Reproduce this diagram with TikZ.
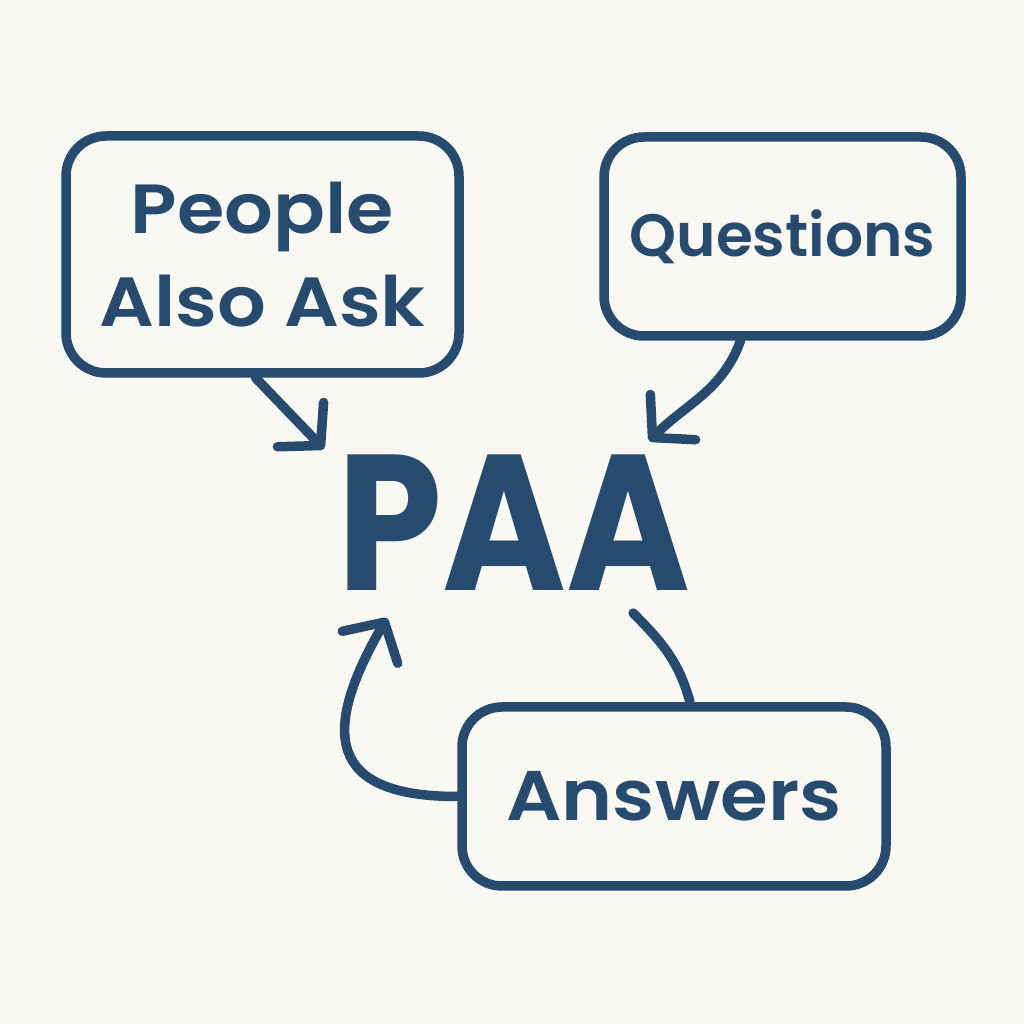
\documentclass[tikz,border=0pt]{standalone}
\usepackage{fontspec}
\setmainfont{Poppins}[BoldFont={Poppins Bold}]
\newfontfamily\boxfont{Poppins SemiBold}
\newfontfamily\widefont{Poppins SemiBold}[FakeStretch=1.1]
\newfontfamily\paafont{Poppins Bold}[FakeStretch=0.87]
\usetikzlibrary{arrows.meta}
\definecolor{ink}{HTML}{264B6F}
\definecolor{paper}{HTML}{FAF8F2}

\tikzset{
    term/.style={draw=ink, line width=0.095cm, rounded corners=0.4cm,
	inner sep=0, text=ink, align=center},
    link/.style={draw=ink, line width=0.095cm, line cap=round,
	-{Straight Barb[length=0.29cm, width=0.64cm, line cap=round, line join=round]}}
}

\begin{document}
\begin{tikzpicture}
    \fill[paper] (0, 0) rectangle (10.24, 10.24);
    \useasboundingbox (0, 0) rectangle (10.24, 10.24);

    \node[term, minimum width=3.93cm, minimum height=2.37cm,
	font={\widefont\fontsize{19.8}{26.5}\selectfont}] (ppl) at (2.625, 7.695) {People\\Also Ask};
    \node[term, minimum width=3.57cm, minimum height=1.99cm,
	font={\boxfont\fontsize{17}{20}\selectfont}] (qst) at (7.825, 7.875) {Questions};
    \node[term, minimum width=4.24cm, minimum height=1.79cm,
	font={\widefont\fontsize{20}{24}\selectfont}] (ans) at (6.74, 2.275) {Answers};
    \node[inner sep=0, text=ink, font={\paafont\fontsize{55}{60}\selectfont}]
	(paa) at (5.14, 5.015) {PAA};

    \draw[link] ([xshift=-0.07cm]ppl.south)
	-- ([shift={(-0.13, 0.05)}]paa.north west);
    \draw[link] ([xshift=-0.42cm]qst.south)
	to[out=-110, in=45] ([shift={(-0.42, 0.13)}]paa.north east);
    \draw[link] (ans.west)
	to[out=180, in=240, looseness=1.75] ([shift={(0.5, -0.27)}]paa.south west);
    \draw[link, -] ([shift={(-0.58, -0.22)}]paa.south east)
	to[out=-45, in=105] ([xshift=0.16cm]ans.north);
\end{tikzpicture}
\end{document}
